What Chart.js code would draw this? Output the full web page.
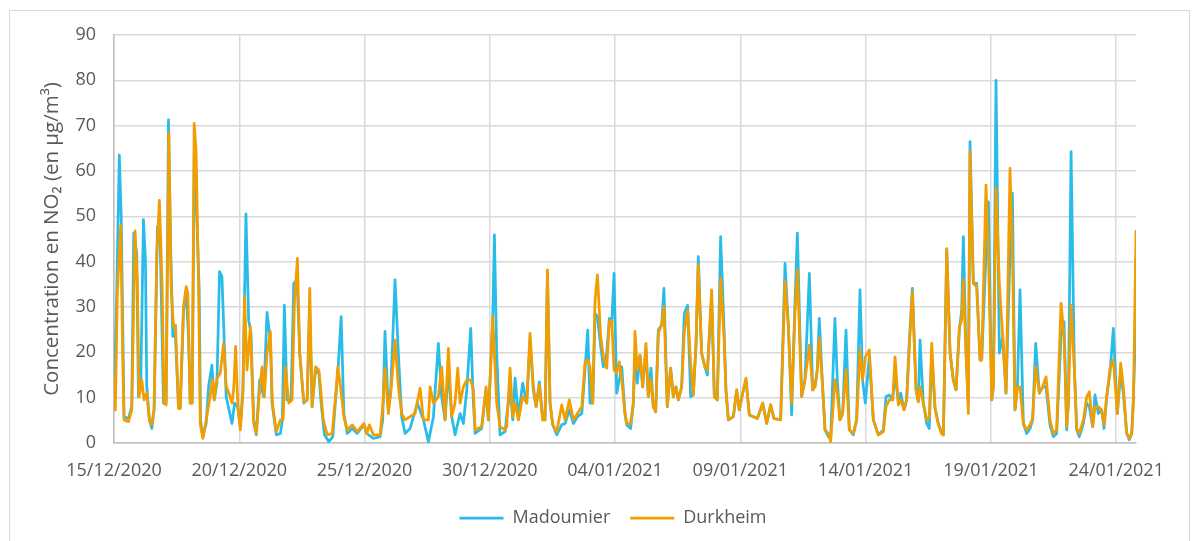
<!DOCTYPE html>
<html>
<head>
<meta charset="utf-8">
<script src="https://cdn.jsdelivr.net/npm/chart.js@4.4.0/dist/chart.umd.min.js"></script>
<style>
  html, body { margin: 0; padding: 0; background: #fff; }
  #frame { position: absolute; left: 9px; top: 10px; width: 1181px; height: 560px; border: 1px solid #d9d9d9; box-sizing: border-box; }
  #wrap { position: absolute; left: 0; top: 0; width: 1197px; height: 541px; }
</style>
</head>
<body>
<div id="frame"></div>
<div id="wrap"><canvas id="chart" width="1197" height="541"></canvas></div>
<script>
// hours since 15/12/2020 00:00, values in µg/m3
const seriesNames = ['Madoumier', 'Durkheim'];
const seriesColors = ['#29bce9', '#f29d00'];
const yTicks = [0, 10, 20, 30, 40, 50, 60, 70, 80, 90];

const lateHours = [
  491.1,494.9,497.5,499.1,501.3,503.9,506.4,509.6,511.8,514.4,
  516.6,518.9,521.4,524.6,526.8,530,533.2,535.8,538.3,540.6,
  543.8,546.3,549.5,552.4,554.9,557.5,559.7,562.9,566.1,568.4,
  572.5,575.1,577.9,581.1,584.3,586.2,588.5,593.3,596.5,599,
  602.2,605.4,608.6,612.4,616.3,621.4,625.2,629,632.2,638.6,
  642.8,646,649.1,652.3,654.6,658.7,661.9,666.1,669.3,671.5,
  673.7,675.6,678.8,681.1,684.3,686.5,690.6,692.9,695.4,698,
  701.2,704.4,708.2,711.4,714.6,717.1,719.7,723.5,727.4,732.2,
  737,739.5,742.7,745.9,748.2,751.4,753.6,756.8,759.3,761.9,
  764.8,768.3,770.5,772.1,775.3,778.5,781,783.3,786.5,789.7,
  792.9,794.5,797.7,800.9,804,806.6,809.8,812,813.6,816.2,
  818.4,820,823.2,826.4,829.6,831.2,835.3,837.6,840.8,842.4,
  844.9,848.1,851.3,854.5,858.3,860.6,863.1,865.4,867.9,871.1,
  874.3,877.5,880,882.9,886.4,889.6,892.8,896.6,899.8,903,
  907.2,910.1,912.6,914.2,916.8,920,922.2,924.7,928.6,931.8,
  934.3,937.5,939.7,942.9,946.1,948.4,950.9,954.1,957.3,961.1,
  964.3,966.9,970.1,972.6,974.9,976.5,979
];

const madHours = [
  0,2.6,5.1,7,9.6,13.8,17,18.9,21.8,23.4,
  25.6,28.2,30.1,31.4,33.9,36.2,38.4,41.6,44.2,47.4,
  49.9,52.2,54.4,56.3,58.6,61.8,63.4,66.6,69.1,71.4,
  73,74.9,77.1,79.4,81.6,82.9,85.1,88.3,90.6,93.8,
  96,98.6,101.1,103.4,107.5,113,115.5,118.4,121,123.5,
  126.4,129,131.2,133.8,136.3,139.5,143.4,146.6,149.8,151.4,
  155.5,159.4,161.3,163.2,165.8,169.6,172.2,175.4,177.9,181.8,
  185,187.5,189.8,193,196.2,198.4,201.6,205.8,209.6,212.2,
  214.4,217.6,220.2,223.4,228.2,233,239.4,
  242.1,248.5,254.9,257.4,259.6,262.8,265.1,269.2,272.4,275.6,
  278.8,283.6,290.6,296.4,301.2,306,310.7,313.9,317.1,320.3,
  323.5,326.7,331.5,334.7,337.9,341.7,344.3,345.9,352.2,356.4,
  358.6,362.8,364.4,366.6,369.8,374.6,379.4,382,384.2,387.4,
  391.5,395.4,398.5,401.7,404.3,407.5,410.7,412.9,415.2,417.7,
  420.3,424.1,428.9,432.1,436.2,440.1,443.9,448.1,451.2,453.8,
  456,458.6,460.8,463.1,466.2,468.8,472,474.5,476.8,479,
  481.6,486.4,489.5
].concat(lateHours);

const madValues = [
  8.8,33,63.5,49,5.8,5.4,8,46.3,41.8,10.2,
  12.4,49.3,40.4,12.4,5.1,3.2,7.3,47.7,44.8,8.8,
  8.8,71.3,41.8,23.5,24.9,8,7.6,29.3,33,23.5,
  8.8,8.8,69,49.2,33.8,5.1,1.4,4.3,12.4,17.2,
  9.5,13.2,37.8,36.7,10.2,4.3,8.8,8,3.6,11.7,
  50.5,27.1,24.2,5.1,1.8,13.9,10.2,28.8,22.7,8.8,
  1.8,2.1,5.1,30.4,9.5,9.5,35.2,36,19.8,8.8,
  9.5,29.3,8,16.1,15.4,8.8,1.8,0.3,1.4,9.5,
  15.4,27.9,6.5,2.1,3.2,2.1,4,
  2.1,1,1.4,5.1,24.6,7.3,11.7,36,19.8,5.8,
  2.1,3.2,8.8,5.1,0.3,5.8,22,10.2,5.1,16.1,
  5.8,1.8,6.5,4.3,11.7,25.3,8.8,2.1,3.2,11.7,
  5.1,27.1,45.9,19.8,1.8,2.5,12.4,5.1,14.3,5.8,
  13.2,8.8,22.7,11.7,8,13.5,5.1,5.1,37.4,8.8,
  4,1.8,4,4.3,7.3,4.3,5.8,6.5,16.1,24.9,
  8.8,8.8,28.6,27.9,21.3,16.8,19.8,27.5,26.4,37.4,
  11,16.8,6.5,
  4,3.2,8.8,19.8,13.2,19.4,12.4,20.5,10.2,16.5,
  8,6.9,24.9,26,34.1,8,16.5,10.2,12.4,9.5,
  12.4,28.6,30.4,10.2,10.6,21.6,41.1,19.8,16.8,15,
  32.3,10.2,9.5,45.5,25.7,11.7,5.1,5.8,11.7,7.3,
  11,13.9,6.2,5.8,5.4,8.8,4.3,8.4,5.4,5.1,
  39.6,25.7,6.2,30.8,46.3,10.2,13.9,37.4,11.7,12.4,
  16.1,27.5,12.4,2.9,1.4,1,27.5,13.9,5.1,6.5,
  24.9,2.9,1.8,5.1,33.8,13.9,8.8,19,5.1,1.8,
  2.9,10.2,10.6,9.5,15.4,8.8,11,7.3,9.5,22.7,
  34.1,11.7,9.1,22.7,8.8,4.3,3.2,19.8,7.6,4.3,
  2.1,1.8,42.6,19.8,13.9,11.7,24.9,29.3,45.5,19.8,
  8.8,66.5,35.2,35.2,18.3,18.3,41.8,53.2,9.5,12.4,
  80,19.8,23.5,11,41.8,55.1,7.3,12.4,33.8,4.3,
  2.1,3.2,5.1,22,11,12.4,12.4,4,1.4,2.1,
  23.5,26.8,2.9,8.8,64.3,16.1,2.9,1.4,4.3,8.8,
  8,3.6,10.6,6.5,7.3,3.2,10.2,15.4,25.3,6.5,
  15.4,11,2.1,0.7,2.1,10.2,27.9
];

const durHours = [
  0,1.3,3.2,6.4,8.3,9.6,13.8,17,20.2,22.4,
  24,26.6,28.8,31.4,33.9,36.2,38.4,41,43.5,46.1,
  48,49.9,52.5,54.7,57,58.9,61.8,63.4,66.6,69.1,
  70.7,73,74.9,76.8,78.7,81,82.6,85.1,88.3,91.5,
  94.4,96,98.6,101.8,105,107.5,110.1,113,114.6,116.5,
  118.7,121,123.5,125.1,127.4,130.6,133.8,136.3,139.5,141.8,
  144,146.6,149.8,151.7,155.5,159.4,161.9,164.2,167.4,170.6,
  172.8,175.7,177.9,181.8,185,187.5,189.8,193,196.2,197.8,
  200.3,204.2,209,212.2,214.4,217,220.2,223.4,228.2,233,
  239.4,
  242.1,244.6,248.5,254.9,257.4,259.6,262.8,265.1,269.2,272.4,
  275.6,278.8,283.6,288.4,293.2,296.4,301.2,302.8,306,310.7,
  313.9,317.1,320.3,323.5,326.7,329.3,331.5,334.7,337.9,341.7,
  344.3,345.9,352.2,356.4,358.6,362.8,366.6,369.8,374.6,376.2,
  379.4,382,384.2,387.4,391.5,395.4,398.5,401.7,404.3,407.5,
  410.7,412.9,415.2,417.7,420.3,424.1,428.9,432.1,436.2,440.1,
  443.9,448.1,451.2,453.8,456,458.6,460.8,463.1,466.2,468.8,
  472,474.5,476.8,479,481.6,484,486.4,489.5
].concat(lateHours);

const durValues = [
  14.6,7.3,33,47.9,19.8,5.1,4.7,7.3,46.8,34.5,
  10.2,13.9,9.5,11,5.1,4,7.6,41.8,53.5,34.5,
  8.8,8.4,68.3,34.5,25.7,26,7.6,7.6,30.1,34.5,
  33,8.8,8.8,70.5,63.9,34.5,4.3,1,5.1,9.5,
  13.9,9.5,14.3,15.4,22,12.4,11,8.8,11.7,21.3,
  8,2.9,11,32.3,16.1,25.7,4.3,2.1,11.7,16.8,
  10.2,19.8,24.6,8.8,2.5,5.1,5.1,16.8,8.8,9.5,
  30.8,40.7,19.8,9.1,9.5,34.1,8,16.8,16.1,12.4,
  5.4,1.8,2.1,10.2,16.8,12.4,5.8,2.9,4,2.5,
  4.3,
  2.1,4,1.8,1.8,8,16.5,6.5,11,22.7,12.4,
  6.5,5.1,5.8,6.5,12.1,5.1,5.1,12.4,8.8,10.2,
  16.8,5.1,20.9,5.8,8.8,16.5,8.8,12.4,13.9,13.9,
  11.7,2.9,3.6,12.4,5.1,27.9,8.8,3.6,2.9,3.6,
  16.5,5.8,8.8,5.1,10.2,8.8,24.2,12.4,8,12.8,
  5.1,5.1,38.2,8.8,4,2.5,8.4,5.1,9.5,5.1,
  6.5,8,17.9,18.3,16.8,8.8,31.5,37.1,23.5,19,
  16.5,26.8,27.1,16.1,15.4,17.9,13.9,6.5,
  4.3,4.3,8.8,24.6,16.1,19.4,12.4,22,10.2,13.9,
  8,6.9,24.2,26,30.1,8,16.5,10.2,12.4,9.5,
  12.4,24.6,29.3,17.6,10.6,21.6,39.3,19.8,16.8,16.1,
  33.8,10.2,9.5,36.3,23.5,11.7,5.1,5.8,11.7,7.3,
  11,14.3,6.2,5.8,5.4,8.8,4.3,8.4,5.4,5.1,
  35.6,25.7,8.8,28.6,38.2,10.2,13.9,21.6,11.7,12.4,
  16.1,23.1,12.4,2.9,2.1,0.3,13.9,11,5.1,6.5,
  16.1,2.9,2.1,5.1,20.5,13.9,19,20.5,5.1,1.8,
  2.5,8,9.5,9.5,19,8.4,9.5,7.3,9.5,21.3,
  33.4,11.7,9.1,12.4,8.8,5.1,5.8,22,7.6,4,
  2.1,1.8,42.9,19.8,13.9,11.7,25.7,27.1,36,19.8,
  6.5,64.3,35.2,34.5,18.3,18.3,56.9,41.8,9.5,12.4,
  56.2,35.2,23.5,11,60.6,41.8,7.3,12.4,12.4,4.3,
  2.9,4,5.4,16.8,11,12.4,14.6,5.1,2.1,2.9,
  30.8,23.5,3.6,8.8,30.4,16.1,3.2,2.1,5.1,10.2,
  11.3,3.6,8,8,7.3,4,10.2,16.5,18.3,6.5,
  17.6,12.4,2.1,1,2.1,8.8,47
];

const startDay = Date.UTC(2020, 11, 15);
const lastHour = 979;

function dayLabel(hours) {
  const d = new Date(startDay + hours * 3600000);
  const dd = String(d.getUTCDate()).padStart(2, '0');
  const mm = String(d.getUTCMonth() + 1).padStart(2, '0');
  return dd + '/' + mm + '/' + d.getUTCFullYear();
}

const toPoints = (hours, values) => hours.map((h, i) => ({ x: h, y: values[i] }));

// legend sits a little left of the plot centre in the original
const legendNudge = {
  id: 'legendNudge',
  afterLayout(chart) {
    if (chart.legend) chart.legend.left -= 24;
  }
};

Chart.defaults.font.family = "'Open Sans', sans-serif";
Chart.defaults.color = '#595959';

// Durkheim first so it is drawn on top, legend reversed to keep Madoumier first
new Chart(document.getElementById('chart'), {
  type: 'line',
  data: {
    datasets: [
      {
        label: seriesNames[1],
        data: toPoints(durHours, durValues),
        borderColor: seriesColors[1],
        backgroundColor: seriesColors[1],
        borderWidth: 2.75
      },
      {
        label: seriesNames[0],
        data: toPoints(madHours, madValues),
        borderColor: seriesColors[0],
        backgroundColor: seriesColors[0],
        borderWidth: 2.75
      }
    ]
  },
  plugins: [legendNudge],
  options: {
    responsive: false,
    animation: false,
    layout: { padding: { left: 0, top: 35, right: 61, bottom: 4 } },
    elements: {
      point: { radius: 0, hoverRadius: 0 },
      line: { tension: 0, borderJoinStyle: 'round', fill: false }
    },
    plugins: {
      tooltip: { enabled: false },
      legend: {
        position: 'bottom',
        fullSize: false,
        reverse: true,
        labels: {
          usePointStyle: true,
          pointStyle: 'line',
          pointStyleWidth: 44,
          padding: 20,
          color: '#595959',
          font: { size: 18 }
        }
      }
    },
    scales: {
      x: {
        type: 'linear',
        min: 0,
        max: lastHour,
        afterFit: s => { s.height = 46; },
        ticks: {
          stepSize: 120,
          includeBounds: false,
          autoSkip: false,
          maxRotation: 0,
          padding: 17,
          color: '#595959',
          font: { size: 18 },
          callback: v => dayLabel(v)
        },
        grid: { color: '#d9d9d9', lineWidth: 1.5, drawTicks: false },
        border: { color: '#bfbfbf', width: 1.5 }
      },
      y: {
        min: yTicks[0],
        max: yTicks[yTicks.length - 1],
        afterFit: s => { s.width = 114; },
        ticks: {
          stepSize: 10,
          padding: 18,
          color: '#595959',
          font: { size: 18 }
        },
        grid: { color: '#d9d9d9', lineWidth: 1.5, drawTicks: false },
        border: { color: '#bfbfbf', width: 1.5 },
        title: {
          display: true,
          text: 'Concentration en NO₂ (en µg/m³)',
          color: '#595959',
          font: { size: 20.5 },
          padding: { top: 40, bottom: 0 }
        }
      }
    }
  }
});
</script>
</body>
</html>
